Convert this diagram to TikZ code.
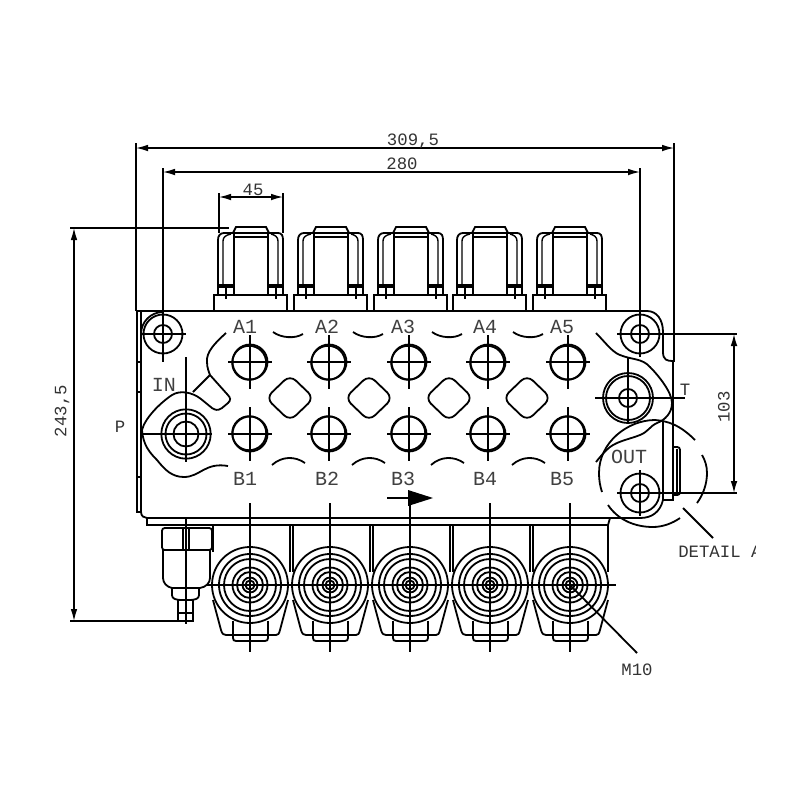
\documentclass[tikz,border=0pt]{standalone}
\usepackage{fontspec}
\setmonofont{Liberation Mono}
\usetikzlibrary{arrows.meta}
\tikzset{
  ln/.style={line width=1.35pt,black},
  thin ln/.style={line width=1.05pt,black},
  dimline/.style={line width=1pt,black,{Latex[length=9pt,width=5pt]}-{Latex[length=9pt,width=5pt]}},
  lab/.style={font=\ttfamily\fontsize{15}{15}\selectfont,text=black!75,inner sep=0pt},
  dimlab/.style={font=\ttfamily\fontsize{13}{13}\selectfont,text=black!80,inner sep=0pt},
  rnd/.style={rounded corners=6pt}
}
\begin{document}
\begin{tikzpicture}[x=0.75pt,y=-0.75pt]
\useasboundingbox (0,0) rectangle (800,800);
% dimension coordinates
\coordinate (d1l) at (136,148); \coordinate (d1r) at (674,148);
\coordinate (d2l) at (163,172); \coordinate (d2r) at (640,172);
\coordinate (d3l) at (219,197); \coordinate (d3r) at (283,197);
\coordinate (d4t) at (74,228); \coordinate (d4b) at (74,621);
\coordinate (d5t) at (734,334); \coordinate (d5b) at (734,493);
\draw[dimline] (d1l) -- (d1r);
\draw[dimline] (d2l) -- (d2r);
\draw[dimline] (d3l) -- (d3r);
\draw[dimline] (d4t) -- (d4b);
\draw[dimline] (d5t) -- (d5b);
\node[dimlab] (t1) at (413,141) {309,5};
\node[dimlab] (t2) at (402,164) {280};
\node[dimlab] (t3) at (253,190) {45};
\node[dimlab,rotate=90] (t4) at (62,411) {243,5};
\node[dimlab,rotate=90] (t5) at (724,407) {103};
\node[dimlab] (tp) at (120,427) {P};
\node[dimlab] (tt) at (685,390) {T};
% extension lines
\draw[thin ln] (136,143) -- (136,311);
\draw[thin ln] (674,143) -- (674,362);
\draw[thin ln] (163,168) -- (163,362);
\draw[thin ln] (640,168) -- (640,353);
\draw[thin ln] (219,193) -- (219,233);
\draw[thin ln] (283,193) -- (283,233);
\draw[thin ln] (70,228) -- (229,228);
\draw[thin ln] (70,621) -- (186,621);
\draw[thin ln] (640,334) -- (737,334);
\draw[thin ln] (640,493) -- (737,493);
% top caps
\foreach \c in {251,331,411,490,570}{
  \begin{scope}[shift={(\c,0)}]
   \draw[ln] (-37,311) -- (-37,295) -- (36,295) -- (36,311);
   \draw[ln] (-33,295) -- (-33,240) .. controls (-33,236) and (-31,233) .. (-27,233) -- (-18,233) -- (-15,227) -- (15,227) -- (18,233) -- (27,233) .. controls (31,233) and (32,236) .. (32,240) -- (32,295);
   \draw[ln] (-18,233) -- (18,233);
   \draw[thin ln] (-17,237) -- (17,237);
   \draw[ln] (-17,233) -- (-17,295);
   \draw[ln] (17,233) -- (17,295);
   \draw[thin ln] (-28,285) -- (-28,241) .. controls (-28,237) and (-25,235) .. (-20,234);
   \draw[thin ln] (27,285) -- (27,241) .. controls (27,237) and (24,235) .. (20,234);
   \draw[ln] (-33,285) -- (-17,285);
   \draw[ln] (17,285) -- (32,285);
   \draw[ln] (-33,287) -- (-17,287);
   \draw[ln] (17,287) -- (32,287);
   \draw[thin ln] (-25,287) -- (-25,299);
   \draw[thin ln] (25,287) -- (25,299);
  \end{scope}
}
% body
\draw[ln] (141,311) -- (647,311) .. controls (657,311) and (663,320) .. (663,332) -- (663,352) .. controls (663,360) and (667,361) .. (673,361) -- (673,500) -- (663,500);
\draw[ln] (137,311) -- (141,311);
\draw[ln] (137,311) -- (137,512) -- (142,512);
\draw[ln] (141,311) -- (141,512) .. controls (141,516) and (144,518) .. (147,518);
\draw[thin ln] (137,362) -- (141,362);
\draw[thin ln] (137,392) -- (141,392);
\draw[thin ln] (137,477) -- (141,477);
\draw[ln] (663,422) -- (663,500) .. controls (660,512) and (652,518) .. (640,518) -- (610,518);
\draw[ln] (147,518) -- (610,518) -- (608,525) -- (147,525) -- (147,518);
\draw[ln] (608,525) -- (608,572);
\draw[ln,rounded corners=2pt] (674,447) -- (680,447) -- (680,495) -- (674,495);
\draw[ln] (677,449) -- (677,493);
% curved outlines
\draw[ln] (226,333) .. controls (215,343) and (206,352) .. (207,362) .. controls (207,368) and (209,372) .. (210,375) -- (227,394) .. controls (231,398) and (231,400) .. (228,403) -- (222,408) .. controls (218,411) and (215,410) .. (212,408) -- (201,399) .. controls (192,392) and (180,390) .. (172,395) .. controls (160,403) and (145,418) .. (142,430) .. controls (143,445) and (150,453) .. (157,460) .. controls (165,470) and (172,477) .. (184,477) .. controls (200,477) and (205,462) .. (228,466);
\draw[ln] (193,392) -- (210,375);
\draw[ln] (596,333) .. controls (605,342) and (612,352) .. (620,355) .. controls (632,360) and (642,358) .. (650,367) .. controls (658,375) and (672,392) .. (672,403) .. controls (672,413) and (665,420) .. (657,423) .. controls (650,426) and (648,432) .. (640,435) .. controls (630,439) and (618,441) .. (610,447) .. controls (604,452) and (600,457) .. (596,462);
% arcs between labels
\foreach \o in {0,80,159,240}{
  \begin{scope}[shift={(\o,0)}]
   \draw[ln] (273,332) .. controls (281,338) and (295,339) .. (303,334);
   \draw[ln] (272,465) .. controls (282,456) and (295,456) .. (305,463);
  \end{scope}
}
% diamonds
\foreach \c in {290,369,449,527}{
  \draw[ln,rnd] (\c,375) -- (\c+24,398) -- (\c,421) -- (\c-24,398) -- cycle;
}
% ports
\foreach \c in {250,329,409,488,568}{
  \draw[ln] (\c,362) circle (17.5);
  \draw[ln] (\c-0.8,362.8) circle (17);
  \draw[ln] (\c-22,362) -- (\c+22,362);
  \draw[ln] (\c,335) -- (\c,389);
  \draw[ln] (\c,434) circle (17.5);
  \draw[ln] (\c-0.8,433.2) circle (17);
  \draw[ln] (\c-22,434) -- (\c+22,434);
  \draw[ln] (\c,407) -- (\c,461);
}
% mounting holes
\foreach \x/\y in {163/334,640/334,640/493}{
  \draw[ln] (\x,\y) circle (19.5);
  \draw[ln] (\x,\y) circle (9);
  \draw[ln] (\x-23,\y) -- (\x+23,\y);
  \draw[ln] (\x,\y-23) -- (\x,\y+23);
}
\draw[ln] (141,334) arc (180:270:22);
% pressure ports
\foreach \r in {24.7,20.5,12.5}{\draw[ln] (186,434) circle (\r);}
\draw[ln] (143,434) -- (212,434);
\draw[ln] (186,357) -- (186,462);
\foreach \r in {25,22,9}{\draw[ln] (628,398) circle (\r);}
\draw[ln] (595,398) -- (685,398);
\draw[ln] (628,358) -- (628,424);
% detail circle
\coordinate (dc) at (652,473);
\draw[ln] (695,440) .. controls (680,425) and (668,421) .. (655,420) .. controls (628,420) and (599,442) .. (599,473) .. controls (599,480) and (600,486) .. (602,492);
\draw[ln] (608,505) .. controls (618,520) and (635,527) .. (653,527) .. controls (663,527) and (673,523) .. (680,518);
\draw[ln] (697,503) .. controls (703,495) and (707,484) .. (707,473) .. controls (707,466) and (705,460) .. (702,455);
% spool section
\foreach \c in {250,330,410,490,570}{
  \foreach \r in {38,31,26,17.5,13,7.5,4.5}{\draw[ln] (\c,585) circle (\r);}
  \draw[ln] (\c-37,600) -- (\c-29,630) .. controls (\c-28,634) and (\c-26,635) .. (\c-24,635) -- (\c+26,635) .. controls (\c+28,635) and (\c+29,634) .. (\c+30,630) -- (\c+38,600);
  \draw[ln] (\c-17,621) -- (\c-17,638) .. controls (\c-17,640) and (\c-16,641) .. (\c-14,641) -- (\c+15,641) .. controls (\c+17,641) and (\c+18,640) .. (\c+18,638) -- (\c+18,621);
  \draw[ln] (\c,503) -- (\c,652);
}
\foreach \x in {290,370,450,530}{
  \draw[ln] (\x,525) -- (\x,572);
  \draw[ln] (\x+3,525) -- (\x+3,572);
}
\draw[ln] (207,585) -- (616,585);
% relief valve
\draw[ln,rounded corners=2pt] (162,528) -- (212,528) -- (212,550) -- (162,550) -- cycle;
\draw[ln] (186,518) -- (186,624);
\draw[ln] (183,528) -- (183,550);
\draw[ln] (189,528) -- (189,550);
\draw[ln] (163,550) -- (163,578) .. controls (163,583) and (167,587) .. (172,588) -- (200,588) .. controls (206,587) and (210,583) .. (210,578) -- (210,550);
\draw[ln,rounded corners=2pt] (172,588) -- (172,598) -- (178,600) -- (193,600) -- (199,598) -- (199,588);
\draw[ln] (178,600) -- (178,621) -- (193,621) -- (193,600);
\draw[ln] (178,613) -- (193,613);
\draw[line width=2pt] (213,525) -- (213,552);
% flow arrow
\coordinate (fa) at (387,498);
\coordinate (fb) at (433,498);
\draw[ln] (fa) -- (408,498);
\fill (408,490) -- (fb) -- (408,506) -- cycle;
% leaders
\coordinate (la) at (683,508); \coordinate (lb) at (713,538);
\draw[ln] (la) -- (lb);
\coordinate (lc) at (570,585); \coordinate (ld) at (637,653);
\draw[ln] (lc) -- (ld);
% labels
\foreach \n/\x in {1/245,2/327,3/403,4/485,5/562}{
  \node[lab] (a\n) at (\x,327) {A\n};
  \node[lab] (b\n) at (\x,479) {B\n};
}
\node[lab] (in) at (164,385) {IN};
\node[lab] (out) at (629,457) {OUT};
\begin{scope}
\clip (670,540) rectangle (755,565);
\node[dimlab,anchor=west] (det) at (678,552) {DETAIL A};
\end{scope}
\node[dimlab] (m10) at (637,670) {M10};
\end{tikzpicture}
\end{document}
